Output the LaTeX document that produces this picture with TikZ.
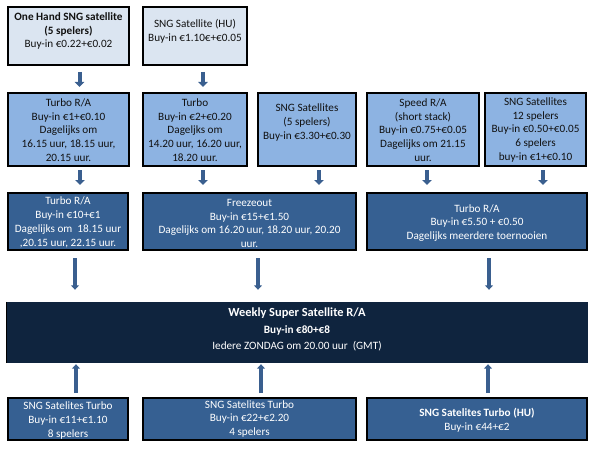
\documentclass[tikz,border=0pt]{standalone}
\usepackage{fontspec}
\setmainfont{Carlito}
\usetikzlibrary{arrows.meta}
\definecolor{fillA}{HTML}{DBE5F1}
\definecolor{fillB}{HTML}{8DB3E2}
\definecolor{fillC}{HTML}{366092}
\definecolor{fillD}{HTML}{0F243E}
\definecolor{arrowc}{HTML}{3A5F8F}
\definecolor{darktext}{HTML}{111111}
\tikzset{
  boxbase/.style={rectangle, draw=black, line width=2.4pt, inner sep=0pt},
  boxA/.style={boxbase, fill=fillA},
  boxB/.style={boxbase, fill=fillB},
  boxC/.style={boxbase, fill=fillC},
  boxD/.style={rectangle, fill=fillD, inner sep=0pt},
  txt/.style={font=\fontsize{11.2}{13.8}\selectfont, align=center, inner sep=0pt},
  dtxt/.style={txt, text=darktext},
  wtxt/.style={txt, text=white},
  sarrow/.style={draw=arrowc, line width=4pt, -{Triangle[width=9.5pt,length=5pt]}},
  larrow/.style={draw=arrowc, line width=3.5pt, -{Triangle[width=8pt,length=4.5pt]}},
}
\begin{document}
\begin{tikzpicture}[x=1pt,y=-1pt]
\useasboundingbox (0,0) rectangle (596,449);
% row A
\node[boxA, minimum width=120.6pt, minimum height=57.6pt] (a1) at (68.5,36) {};
\node[boxA, minimum width=103.6pt, minimum height=57.6pt] (a2) at (195,36) {};
\node[dtxt] (a1t) at (68.5,31) {\textbf{One Hand SNG satellite}\\\textbf{(5 spelers)}\\Buy-in €0.22+€0.02};
\node[dtxt] (a2t) at (195,31.5) {SNG Satellite (HU)\\Buy-in €1.10€+€0.05};
% row B
\node[boxB, minimum width=120.6pt, minimum height=72.6pt] (b1) at (68.5,129.5) {};
\node[boxB, minimum width=103.6pt, minimum height=72.6pt] (b2) at (195,129.5) {};
\node[boxB, minimum width=97.6pt, minimum height=72.6pt] (b3) at (307,129.5) {};
\node[boxB, minimum width=111.6pt, minimum height=72.6pt] (b4) at (423,129.5) {};
\node[boxB, minimum width=100.6pt, minimum height=72.6pt] (b5) at (535.5,129.5) {};
\node[dtxt] (b1t) at (68.5,130) {Turbo R/A\\Buy-in €1+€0.10\\Dagelijks om\\16.15 uur, 18.15 uur,\\20.15 uur.};
\node[dtxt] (b2t) at (195,130) {Turbo\\Buy-in €2+€0.20\\Dageljks om\\14.20 uur, 16.20 uur,\\18.20 uur.};
\node[dtxt] (b3t) at (307,122.5) {SNG Satellites\\(5 spelers)\\Buy-in €3.30+€0.30};
\node[dtxt] (b4t) at (423,130) {Speed R/A\\(short stack)\\Buy-in €0.75+€0.05\\Dagelijks om 21.15\\uur.};
\node[dtxt] (b5t) at (535.5,130) {SNG Satellites\\12 spelers\\Buy-in €0.50+€0.05\\6 spelers\\buy-in €1+€0.10};
% row C
\node[boxC, minimum width=119.6pt, minimum height=56.6pt] (c1) at (68,221.5) {};
\node[boxC, minimum width=212.6pt, minimum height=56.6pt] (c2) at (249.5,221.5) {};
\node[boxC, minimum width=219.6pt, minimum height=56.6pt] (c3) at (477,221.5) {};
\node[wtxt] (c1t) at (68,222.5) {Turbo R/A\\Buy-in €10+€1\\Dagelijks om~~18.15 uur\\,20.15 uur, 22.15 uur.};
\node[wtxt] (c2t) at (249.5,223.5) {Freezeout\\Buy-in €15+€1.50\\Dagelijks om 16.20 uur, 18.20 uur, 20.20\\uur.};
\node[wtxt] (c3t) at (477,223) {Turbo R/A\\Buy-in €5.50 + €0.50\\Dagelijks meerdere toernooien};
% main box
\node[boxD, minimum width=582pt, minimum height=61pt] (d) at (297,332.5) {};
\draw[black, line width=1pt] ([xshift=0.5pt]d.north west) -- ([xshift=0.5pt]d.south west);
\node[wtxt] (dt) at (297,329.5) {{\fontsize{12.4}{14}\selectfont\bfseries Weekly Super Satellite R/A}\\[2.5pt]\textbf{Buy-in €80+€8}\\[2.5pt]Iedere ZONDAG om 20.00 uur~~(GMT)};
% row E
\node[boxC, minimum width=119.6pt, minimum height=41.6pt] (e1) at (68,419) {};
\node[boxC, minimum width=212.6pt, minimum height=41.6pt] (e2) at (249.5,419) {};
\node[boxC, minimum width=219.6pt, minimum height=41.6pt] (e3) at (477,419) {};
\node[wtxt] (e1t) at (68,420.5) {SNG Satelites Turbo\\Buy-in €11+€1.10\\8 spelers};
\node[wtxt] (e2t) at (249.5,419) {SNG Satelites Turbo\\Buy-in €22+€2.20\\4 spelers};
\node[wtxt] (e3t) at (477,420) {\textbf{SNG Satelites Turbo (HU)}\\Buy-in €44+€2};
% arrows row A -> B
\draw[sarrow, shorten <=6pt, shorten >=5pt] ([xshift=11pt]a1.south) -- ([xshift=11pt]a1.south |- b1.north);
\draw[sarrow, shorten <=6pt, shorten >=5pt] ([xshift=8pt]a2.south) -- ([xshift=8pt]a2.south |- b2.north);
% arrows row B -> C
\draw[sarrow, shorten <=3pt, shorten >=7pt] ([xshift=11.5pt]b1.south) -- ([xshift=11.5pt]b1.south |- c1.north);
\draw[sarrow, shorten <=3pt, shorten >=7pt] ([xshift=8pt]b2.south) -- ([xshift=8pt]b2.south |- c2.north);
\draw[sarrow, shorten <=3pt, shorten >=7pt] ([xshift=12pt]b3.south) -- ([xshift=12pt]b3.south |- c2.north);
\draw[sarrow, shorten <=3pt, shorten >=7pt] ([xshift=4pt]b4.south) -- ([xshift=4pt]b4.south |- c3.north);
\draw[sarrow, shorten <=3pt, shorten >=7pt] ([xshift=7.5pt]b5.south) -- ([xshift=7.5pt]b5.south |- c3.north);
% arrows row C -> D
\draw[larrow, shorten <=7pt, shorten >=12pt] ([xshift=7pt]c1.south) -- ([xshift=7pt]c1.south |- d.north);
\draw[larrow, shorten <=7pt, shorten >=12pt] ([xshift=8.5pt]c2.south) -- ([xshift=8.5pt]c2.south |- d.north);
\draw[larrow, shorten <=7pt, shorten >=12pt] ([xshift=12pt]c3.south) -- ([xshift=12pt]c3.south |- d.north);
% arrows row E -> D
\draw[larrow, shorten <=4pt, shorten >=1pt] ([xshift=8pt]e1.north) -- ([xshift=8pt]e1.north |- d.south);
\draw[larrow, shorten <=4pt, shorten >=1pt] ([xshift=11.5pt]e2.north) -- ([xshift=11.5pt]e2.north |- d.south);
\draw[larrow, shorten <=4pt, shorten >=1pt] ([xshift=11pt]e3.north) -- ([xshift=11pt]e3.north |- d.south);
\end{tikzpicture}
\end{document}
